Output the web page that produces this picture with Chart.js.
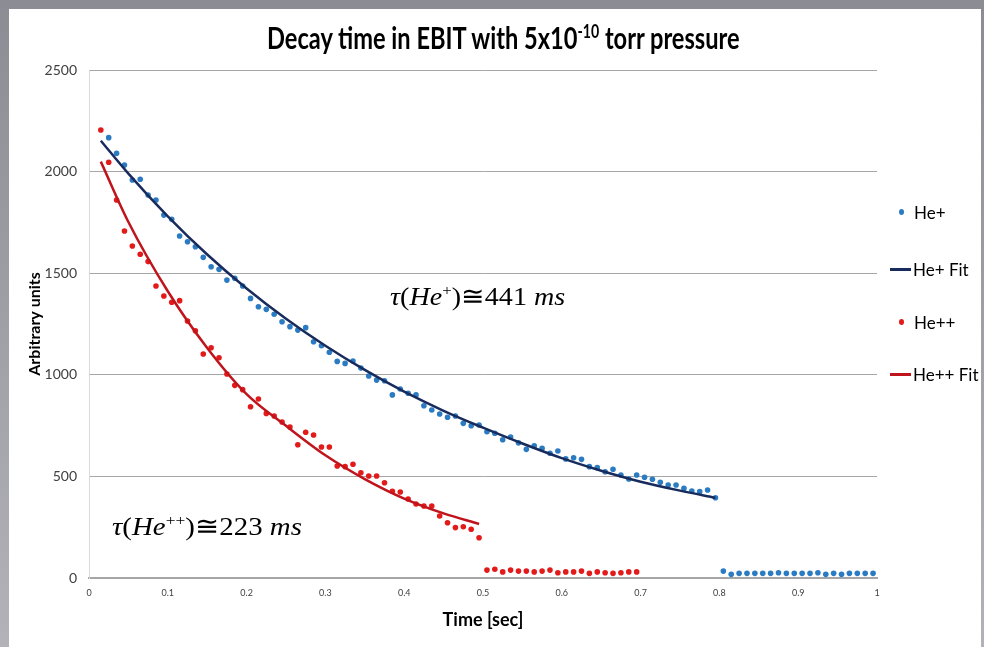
<!DOCTYPE html>
<html>
<head>
<meta charset="utf-8">
<script src="https://cdn.jsdelivr.net/npm/chart.js@4.4.1/dist/chart.umd.min.js"></script>
<style>
  html, body { margin: 0; padding: 0; }
  body { width: 984px; height: 647px; position: relative; overflow: hidden; background: linear-gradient(#8c8c94, #b2b2b8); }
  #panel { position: absolute; left: 9px; top: 9px; width: 972px; height: 638px; background: #fff; }
  #chart { position: absolute; left: 0; top: 0; }
  .txt { position: absolute; white-space: nowrap; transform-origin: 0 50%; line-height: 1.15; color: #000; }
  .txt sup { font-size: 0.6em; vertical-align: 0; position: relative; top: -0.62em; }
  #title { font: bold 30px Lato, "Open Sans", sans-serif; }
  .ann { font: 26px "Liberation Serif", "DejaVu Serif", serif; }
  .ann i { font-style: italic; }
  .leg { font: 17px Lato, "Open Sans", sans-serif; }
  .dot { position: absolute; width: 5px; height: 6px; border-radius: 50%; }
  .lline { position: absolute; height: 3px; }
</style>
</head>
<body>
<div id="panel"></div>
<canvas id="chart" width="984" height="647"></canvas>

<div id="title" class="txt">Decay time in EBIT with 5x10<sup>-10</sup> torr pressure</div>
<div id="ann1" class="txt ann"><i>τ</i>(<i>He</i><sup>+</sup>)≅441 <i>ms</i></div>
<div id="ann2" class="txt ann"><i>τ</i>(<i>He</i><sup>++</sup>)≅223 <i>ms</i></div>

<div class="dot" style="left:899px;top:209px;background:#2b7bc3"></div>
<div id="leg1" class="txt leg">He+</div>
<div class="lline" style="left:890px;top:268px;width:21px;background:#172b5c"></div>
<div id="leg2" class="txt leg">He+ Fit</div>
<div class="dot" style="left:899px;top:319px;background:#e31a1a"></div>
<div id="leg3" class="txt leg">He++</div>
<div class="lline" style="left:890px;top:373px;width:21px;background:#c0141c"></div>
<div id="leg4" class="txt leg">He++ Fit</div>

<script>
// He+ measured points (time in s, arbitrary units)
const heTimes = [
  0.025, 0.035, 0.045, 0.055, 0.065, 0.075, 0.085, 0.095,
  0.105, 0.115, 0.125, 0.135, 0.145, 0.155, 0.165, 0.175, 0.185, 0.195,
  0.205, 0.215, 0.225, 0.235, 0.245, 0.255, 0.265, 0.275, 0.285, 0.295,
  0.305, 0.315, 0.325, 0.335, 0.345, 0.355, 0.365, 0.375, 0.385, 0.395,
  0.405, 0.415, 0.425, 0.435, 0.445, 0.455, 0.465, 0.475, 0.485, 0.495,
  0.505, 0.515, 0.525, 0.535, 0.545, 0.555, 0.565, 0.575, 0.585, 0.595,
  0.605, 0.615, 0.625, 0.635, 0.645, 0.655, 0.665, 0.675, 0.685, 0.695,
  0.705, 0.715, 0.725, 0.735, 0.745, 0.755, 0.765, 0.775, 0.785, 0.795,
  0.805, 0.815, 0.825, 0.835, 0.845, 0.855, 0.865, 0.875, 0.885, 0.895,
  0.905, 0.915, 0.925, 0.935, 0.945, 0.955, 0.965, 0.975, 0.985, 0.995
];
const heValues = [
  2167, 2090, 2032, 1959, 1962, 1885, 1860, 1786,
  1765, 1683, 1655, 1630, 1578, 1532, 1519, 1466, 1475, 1437,
  1376, 1335, 1322, 1298, 1261, 1237, 1220, 1232, 1163, 1143,
  1111, 1066, 1056, 1068, 1033, 994, 974, 971, 901, 930,
  909, 901, 848, 827, 807, 791, 797, 761, 749, 753,
  720, 712, 680, 694, 665, 633, 650, 638, 614, 625,
  586, 592, 584, 548, 543, 523, 535, 507, 487, 507,
  496, 486, 471, 458, 458, 441, 428, 425, 433, 395,
  34, 18, 23, 23, 23, 23, 23, 26, 23, 23,
  23, 23, 26, 18, 23, 18, 23, 23, 23, 23
];

// He++ measured points
const hePPTimes = [
  0.015, 0.025, 0.035, 0.045, 0.055, 0.065, 0.075, 0.085, 0.095,
  0.105, 0.115, 0.125, 0.135, 0.145, 0.155, 0.165, 0.175, 0.185, 0.195,
  0.205, 0.215, 0.225, 0.235, 0.245, 0.255, 0.265, 0.275, 0.285, 0.295,
  0.305, 0.315, 0.325, 0.335, 0.345, 0.355, 0.365, 0.375, 0.385, 0.395,
  0.405, 0.415, 0.425, 0.435, 0.445, 0.455, 0.465, 0.475, 0.485, 0.495,
  0.505, 0.515, 0.525, 0.535, 0.545, 0.555, 0.565, 0.575, 0.585, 0.595,
  0.605, 0.615, 0.625, 0.635, 0.645, 0.655, 0.665, 0.675, 0.685, 0.695
];
const hePPValues = [
  2205, 2046, 1860, 1708, 1634, 1593, 1557, 1437, 1388,
  1357, 1365, 1265, 1217, 1102, 1133, 1084, 1004, 948, 927,
  843, 881, 810, 797, 768, 743, 656, 717, 704, 645,
  645, 551, 548, 560, 518, 502, 502, 469, 427, 423,
  389, 364, 354, 354, 305, 272, 248, 252, 240, 198,
  39, 43, 30, 39, 34, 34, 30, 34, 39, 26,
  30, 30, 34, 23, 30, 26, 23, 26, 30, 30
];

// fit curves
const heFitTimes = [0.015, 0.05, 0.1, 0.15, 0.2, 0.25, 0.3, 0.35, 0.4, 0.45, 0.5, 0.55, 0.6, 0.65, 0.7, 0.75, 0.795];
const heFitValues = [2152, 1990, 1780, 1592, 1425, 1276, 1143, 1024, 917, 823, 740, 662, 590, 528, 474, 430, 395];
const hePPFitTimes = [0.015, 0.05, 0.1, 0.15, 0.2, 0.25, 0.3, 0.35, 0.4, 0.45, 0.495];
const hePPFitValues = [2049, 1752, 1411, 1132, 905, 749, 604, 487, 391, 318, 266];

const xTickLabels = ['0', '0.1', '0.2', '0.3', '0.4', '0.5', '0.6', '0.7', '0.8', '0.9', '1'];
const yTickLabels = ['0', '500', '1000', '1500', '2000', '2500'];

function toPoints(xs, ys) {
    return xs.map(function (x, i) { return { x: x, y: ys[i] }; });
}

// squeeze a text block horizontally to a given width, like the stretched original
function fitText(id, left, centerY, width) {
    const el = document.getElementById(id);
    const w = el.offsetWidth;
    el.style.left = left + 'px';
    el.style.top = (centerY - el.offsetHeight / 2) + 'px';
    if (width) el.style.transform = 'scaleX(' + (width / w) + ')';
}

Chart.defaults.font.family = "Lato, 'Open Sans', sans-serif";

const ctx = document.getElementById('chart').getContext('2d');
new Chart(ctx, {
    type: 'scatter',
    data: {
        datasets: [
            {
                label: 'He+ Fit',
                data: toPoints(heFitTimes, heFitValues),
                showLine: true,
                borderColor: '#172b5c',
                borderWidth: 2.5,
                pointRadius: 0,
                cubicInterpolationMode: 'monotone',
                order: 0
            },
            {
                label: 'He++ Fit',
                data: toPoints(hePPFitTimes, hePPFitValues),
                showLine: true,
                borderColor: '#c0141c',
                borderWidth: 2.5,
                pointRadius: 0,
                cubicInterpolationMode: 'monotone',
                order: 0
            },
            {
                label: 'He+',
                data: toPoints(heTimes, heValues),
                backgroundColor: '#2b7bc3',
                borderWidth: 0,
                pointRadius: 2.8,
                order: 1
            },
            {
                label: 'He++',
                data: toPoints(hePPTimes, hePPValues),
                backgroundColor: '#e31a1a',
                borderWidth: 0,
                pointRadius: 2.8,
                order: 1
            }
        ]
    },
    options: {
        responsive: false,
        animation: false,
        devicePixelRatio: 1,
        layout: { padding: { left: 0, top: 70, right: 107, bottom: 0 } },
        plugins: {
            legend: { display: false },
            tooltip: { enabled: false }
        },
        scales: {
            x: {
                type: 'linear',
                min: 0,
                max: 1,
                afterFit: function (s) { s.height = 69; },
                grid: { display: false, drawTicks: false },
                border: { color: '#a6a6a6', width: 2 },
                ticks: {
                    stepSize: 0.1,
                    padding: 10,
                    maxRotation: 0,
                    color: '#404040',
                    font: { size: 9 },
                    callback: function (v, i) { return xTickLabels[i]; }
                },
                title: {
                    display: true,
                    text: 'Time [sec]',
                    color: '#000',
                    font: { size: 18, weight: 'bold' },
                    padding: { top: 0, bottom: 16 }
                }
            },
            y: {
                min: 0,
                max: 2500,
                afterFit: function (s) { s.width = 89; },
                grid: { color: '#a6a6a6', drawTicks: false },
                border: { color: '#d9d9d9' },
                ticks: {
                    stepSize: 500,
                    padding: 12,
                    color: '#404040',
                    font: { size: 14 },
                    callback: function (v, i) { return yTickLabels[i]; }
                },
                title: {
                    display: true,
                    text: 'Arbitrary units',
                    color: '#000',
                    font: { size: 16, weight: 'bold' },
                    padding: { top: 25, bottom: 0 }
                }
            }
        }
    }
});

fitText('title', 267, 37, 473);
fitText('ann1', 390, 296, 175);
fitText('ann2', 112, 526, 190);
fitText('leg1', 914, 212);
fitText('leg2', 913, 269);
fitText('leg3', 914, 322);
fitText('leg4', 913, 374);
</script>
</body>
</html>
